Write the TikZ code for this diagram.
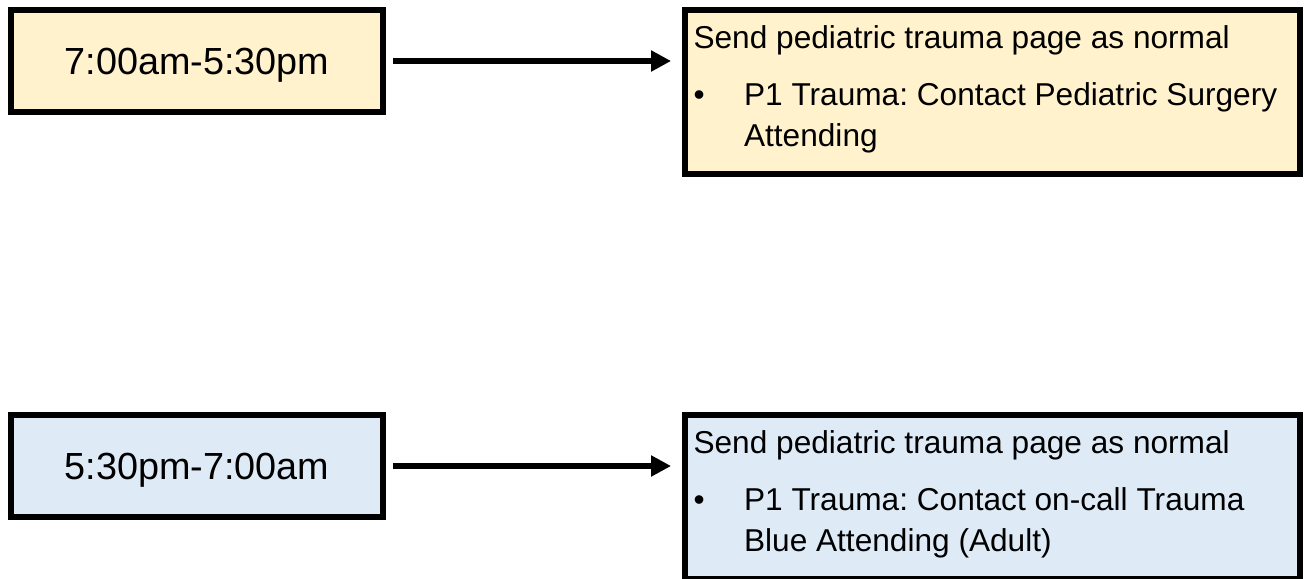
\documentclass[tikz,border=0pt]{standalone}
\usepackage{fontspec}
\setmainfont{Liberation Sans}
\usepackage{xcolor}
\usetikzlibrary{arrows.meta}

\definecolor{dayshift}{HTML}{FFF2CC}
\definecolor{nightshift}{HTML}{DEEBF7}

% page text: common first line, then one bullet of two lines
\newcommand{\pagetext}[2]{%
  \parbox[c][3.29cm][t]{11.96cm}{\fontsize{18}{23.3}\selectfont\frenchspacing
    \rule{0pt}{0.771cm}Send pediatric trauma page as normal\\[0.328cm]
    \makebox[1.01cm][l]{\textbullet}\parbox[t]{10.9cm}{#1\\#2}}}

\begin{document}
\begin{tikzpicture}[x=0.02cm,y=-0.02cm,>={Triangle[length=0.4cm,width=0.4cm]},
  timebox/.style={draw,line width=0.11cm,minimum width=7.45cm,minimum height=2.05cm,
    inner sep=0pt,text depth=0pt,font=\fontsize{21.5}{26}\selectfont},
  pagebox/.style={draw,line width=0.11cm,minimum width=12.31cm,minimum height=3.29cm,
    inner xsep=0.175cm,inner ysep=0pt},
  link/.style={->,line width=0.13cm,shorten <=0.14cm,shorten >=0.22cm}]
  \useasboundingbox (0,0) rectangle (1304,578);

  \node[timebox,fill=dayshift]   (day)       at (197,61)    {7:00am-5:30pm};
  \node[pagebox,fill=dayshift]   (daypage)   at (992.5,92)
    {\pagetext{P1 Trauma: Contact Pediatric Surgery}{Attending}};

  \node[timebox,fill=nightshift] (night)     at (197,466)   {5:30pm-7:00am};
  \node[pagebox,fill=nightshift] (nightpage) at (992.5,497)
    {\pagetext{P1 Trauma: Contact on-call Trauma}{Blue Attending (Adult)}};

  \draw[link] (day.east)   -- (day.east -| daypage.west);
  \draw[link] (night.east) -- (night.east -| nightpage.west);
\end{tikzpicture}
\end{document}
